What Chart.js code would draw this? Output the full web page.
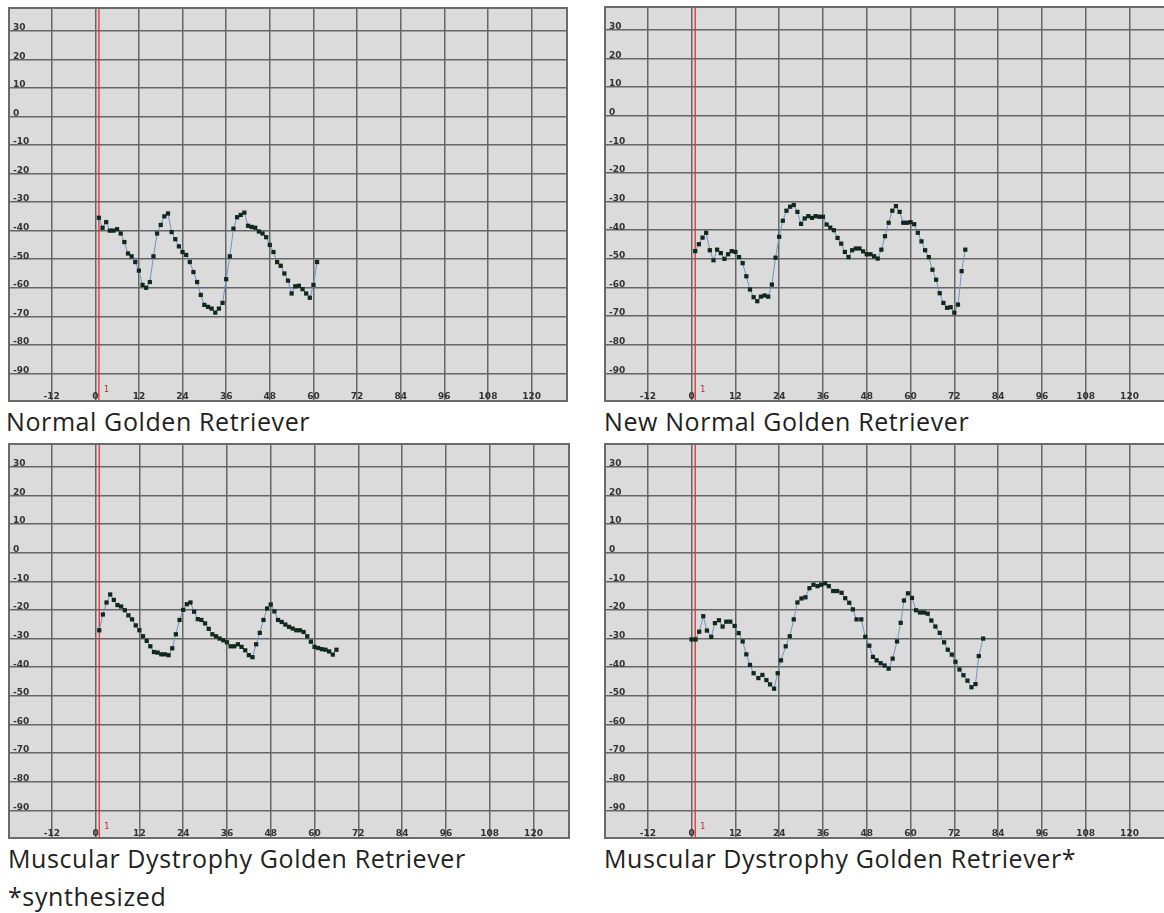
<!DOCTYPE html>
<html>
<head>
<meta charset="utf-8">
<title>Golden Retriever traces</title>
<script src="https://cdn.jsdelivr.net/npm/chart.js"></script>
<style>
  body { margin: 0; width: 1164px; height: 913px; overflow: hidden; background: #fff; position: relative; }
  canvas { position: absolute; }
  .caption { position: absolute; font-family: "Open Sans", sans-serif; font-size: 25px; line-height: 25px; letter-spacing: 0.6px; color: #231f20; white-space: nowrap; }
</style>
</head>
<body>
<canvas id="normal" width="560" height="395" style="left:8px;top:7px"></canvas>
<canvas id="newNormal" width="562" height="396" style="left:604px;top:6px"></canvas>
<canvas id="md" width="562" height="396" style="left:8px;top:443px"></canvas>
<canvas id="mdSynth" width="562" height="396" style="left:604px;top:443px"></canvas>

<div class="caption" style="left:6px;top:409px">Normal Golden Retriever</div>
<div class="caption" style="left:604px;top:409px">New Normal Golden Retriever</div>
<div class="caption" style="left:8px;top:846px">Muscular Dystrophy Golden Retriever</div>
<div class="caption" style="left:604px;top:846px">Muscular Dystrophy Golden Retriever*</div>
<div class="caption" style="left:8px;top:884px">*synthesized</div>

<script>
// axis ticks
const xTicks = [-12, 0, 12, 24, 36, 48, 60, 72, 84, 96, 108, 120];
const yTicks = [-90, -80, -70, -60, -50, -40, -30, -20, -10, 0, 10, 20, 30];
const markerX = 1;
const markerLabel = '1';

// Normal Golden Retriever
const normalX = [1,2,3,4,5,6,7,8,9,10,11,12,13,14,15,16,17,18,19,20,21,22,23,24,25,26,27,28,29,30,
  31,32,33,34,35,36,37,38,39,40,41,42,43,44,45,46,47,48,49,50,51,52,53,54,55,56,57,58,59,60,61];
const normalY = [-35.5,-39,-37,-40,-40,-39.5,-41,-44,-48,-49,-51,-54,-59,-60,-58,-49,-41,-38,-35,-34,
  -40.5,-43,-45.5,-47.5,-48.5,-51,-54.5,-58,-62.5,-66,-66.7,-67.3,-68.7,-67.3,-65.3,-57,-49,-39.3,-35.3,-34.5,
  -33.7,-38.3,-38.7,-39,-40.3,-41,-42.3,-45,-47.5,-51,-52.3,-55,-57.5,-62,-59.5,-59.3,-60.5,-62,-63.5,-59,-51];

// New Normal Golden Retriever
const newNormalX = [1,2,3,4,5,6,7,8,9,10,11,12,13,14,15,16,17,18,19,20,21,22,23,24,25,26,27,28,29,30,
  31,32,33,34,35,36,37,38,39,40,41,42,43,44,45,46,47,48,49,50,51,52,53,54,55,56,57,58,59,60,
  61,62,63,64,65,66,67,68,69,70,71,72,73,74,75];
const newNormalY = [-47.3,-44.9,-42.6,-40.9,-47,-50.5,-46.8,-48,-50,-48.4,-47.3,-47.6,-49.4,-51.5,-56.1,-60.7,-63.4,-64.8,-63.2,-62.8,
  -63.2,-59,-49.6,-42.3,-36.7,-33.2,-31.8,-31.2,-33.6,-37.8,-35.9,-35.1,-35.7,-35.1,-35.3,-35.3,-38,-39.1,-40,-42.7,
  -44.7,-47.6,-49.4,-47,-46.4,-46.4,-47.4,-48.4,-48.4,-49.1,-49.9,-46.8,-42.1,-37.4,-33.2,-31.6,-33.6,-37.4,-37.4,-37.2,
  -37.9,-40.9,-43.9,-47,-49.4,-53.8,-57.3,-62,-65.4,-67.1,-66.9,-68.8,-66,-54.3,-46.8];

// Muscular Dystrophy Golden Retriever
const mdX = [1,2,3,4,5,6,7,8,9,10,11,12,13,14,15,16,17,18,19,20,21,22,23,24,25,26,27,28,29,30,
  31,32,33,34,35,36,37,38,39,40,41,42,43,44,45,46,47,48,49,50,51,52,53,54,55,56,57,58,59,60,
  61,62,63,64,65,66];
const mdY = [-27.1,-21.6,-17.4,-14.6,-16.5,-18.3,-18.8,-20.1,-21.9,-23.3,-25.4,-27.1,-29.2,-30.8,-32.7,-34.7,-34.9,-35.5,-35.5,-35.8,
  -33.4,-28.5,-23.5,-20,-18,-17.4,-20.6,-23.2,-23.5,-24.7,-26.6,-28.5,-29.2,-30,-30.6,-31.3,-32.7,-32.7,-32,-32.9,
  -34.1,-35.8,-36.5,-32,-28,-23.5,-19.5,-18.1,-20.5,-23.5,-24.2,-25.1,-25.9,-26.5,-27.1,-27.1,-27.7,-29.2,-31.1,-32.9,
  -33.3,-33.7,-33.9,-34.5,-35.6,-33.9];

// Muscular Dystrophy Golden Retriever* (synthesized)
const mdSynthX = [0,1.1,2.1,3.2,4.2,5.4,6.4,7.5,8.5,9.5,10.6,11.8,12.9,14,15,16,17,18.3,19.4,20.5,
  21.5,22.6,23.6,24.5,25.8,26.9,28,29,30.1,31.2,32.3,33.4,34.5,35.5,36.6,37.6,38.8,39.9,41.1,42.1,
  43.2,44.2,45.2,46.5,47.6,48.7,49.7,50.7,51.8,52.9,54,55.1,56.3,57.3,58.2,59.3,60.4,61.5,62.6,63.7,
  64.7,65.7,66.8,68,69.2,70.2,71.3,72.3,73.4,74.5,75.6,76.7,77.8,78.7,79.9];
const mdSynthY = [-30.3,-30.3,-27.6,-22.2,-27.2,-29.4,-24.6,-23.6,-25.8,-24.1,-24.1,-25.6,-28.1,-31,-35.5,-39.2,-42.1,-43.8,-42.7,-44.5,
  -46,-47.5,-42.1,-37.6,-32.7,-29.2,-23.3,-17.4,-16,-15.6,-12.4,-11.2,-11.7,-11.2,-10.7,-11.7,-13.4,-13.4,-14,-15.9,
  -17.5,-19.8,-23.3,-23.3,-29.4,-32.5,-36.4,-37.6,-38.6,-39.4,-40.5,-37,-31,-24.5,-16.7,-14.2,-15.8,-20.1,-20.9,-20.9,
  -21.3,-23.7,-25.8,-28,-31.3,-33.9,-35.6,-38.1,-40.8,-42.8,-44.7,-47,-45.9,-36.1,-30];

// grey plot background, red marker line and the frame
const panelDecor = {
  id: 'panelDecor',
  beforeDraw(chart) {
    const { ctx, chartArea: a } = chart;
    ctx.save();
    ctx.fillStyle = '#dbdbdb';
    ctx.fillRect(a.left, a.top, a.width, a.height);
    ctx.restore();
  },
  beforeDatasetsDraw(chart) {
    const { ctx, chartArea: a } = chart;
    const px = chart.scales.x.getPixelForValue(markerX);
    ctx.save();
    ctx.strokeStyle = '#ee2b2b';
    ctx.lineWidth = 1.3;
    ctx.beginPath();
    ctx.moveTo(px, a.top);
    ctx.lineTo(px, a.bottom);
    ctx.stroke();
    ctx.fillStyle = '#d02020';
    ctx.font = '8px "DejaVu Sans"';
    ctx.textBaseline = 'middle';
    ctx.fillText(markerLabel, px + 5, a.bottom - 12.5);
    ctx.restore();
  },
  afterDraw(chart) {
    const { ctx, chartArea: a } = chart;
    ctx.save();
    ctx.strokeStyle = '#6a6a6a';
    ctx.lineWidth = 2;
    ctx.strokeRect(a.left + 1, a.top + 1, a.width - 2, a.height - 2);
    ctx.restore();
  }
};

const tickFont = { family: 'DejaVu Sans', size: 9, weight: 'bold' };

function makeChart(id, xs, ys) {
  const points = xs.map((x, i) => ({ x: x, y: ys[i] }));
  return new Chart(document.getElementById(id), {
    type: 'line',
    data: {
      datasets: [{
        data: points,
        borderColor: '#6f93c9',
        borderWidth: 1,
        pointStyle: 'rect',
        pointRadius: 3,
        pointBorderWidth: 0,
        pointBackgroundColor: '#10281d',
        tension: 0
      }]
    },
    options: {
      responsive: false,
      animation: false,
      layout: { padding: 0, autoPadding: false },
      plugins: { legend: { display: false }, tooltip: { enabled: false } },
      scales: {
        x: {
          type: 'linear',
          min: -24,
          max: 130,
          afterBuildTicks: s => { s.ticks = xTicks.map(v => ({ value: v })); },
          afterFit: s => { s.height = 0; s.paddingLeft = 0; s.paddingRight = 0; },
          grid: { color: '#666', lineWidth: 1.5, drawTicks: false },
          border: { display: false },
          ticks: { mirror: true, padding: 0, color: '#333', font: tickFont, maxRotation: 0, autoSkip: false }
        },
        y: {
          type: 'linear',
          min: -100,
          max: 38.3,
          afterBuildTicks: s => { s.ticks = yTicks.map(v => ({ value: v })); },
          afterFit: s => { s.width = 0; s.paddingTop = 0; s.paddingBottom = 0; },
          grid: { color: '#666', lineWidth: 1.5, drawTicks: false },
          border: { display: false },
          ticks: { mirror: true, padding: 5, labelOffset: -3, color: '#333', font: tickFont, autoSkip: false }
        }
      }
    },
    plugins: [panelDecor]
  });
}

makeChart('normal', normalX, normalY);
makeChart('newNormal', newNormalX, newNormalY);
makeChart('md', mdX, mdY);
makeChart('mdSynth', mdSynthX, mdSynthY);
</script>
</body>
</html>
